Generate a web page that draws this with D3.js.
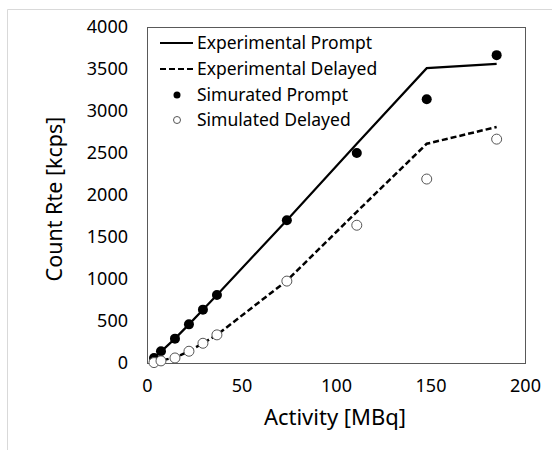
<!DOCTYPE html>
<html>
<head>
<meta charset="utf-8">
<script src="https://cdn.jsdelivr.net/npm/d3@7"></script>
<style>
  body { margin: 0; background: #fff; }
  text { font-family: "Noto Sans", "Open Sans", sans-serif; fill: #000; }
</style>
</head>
<body>
<script>
// activity in MBq (multiples of 3.7)
var activity = [3.7, 7.4, 14.8, 22.2, 29.6, 37, 74, 111, 148, 185]

var expPrompt  = [65, 135, 290, 460, 635, 810, 1700, 2610, 3510, 3560]
var expDelayed = [10, 30, 65, 140, 235, 335, 980, 1800, 2610, 2810]
var simPrompt  = [60, 140, 290, 460, 635, 810, 1700, 2500, 3140, 3665]
var simDelayed = [5, 25, 60, 140, 235, 335, 975, 1640, 2190, 2665]

var xTicks = [0, 50, 100, 150, 200]
var yTicks = [0, 500, 1000, 1500, 2000, 2500, 3000, 3500, 4000]

var width = 552, height = 450
var plotLeft = 147, plotRight = 525, plotTop = 27, plotBottom = 363

var svg = d3.select("body").append("svg")
    .attr("width", width)
    .attr("height", height)

// light outer frame
svg.append("path")
    .attr("d", "M7.5," + height + "V9.5H" + width)
    .attr("fill", "none")
    .attr("stroke", "#d9d9d9")

var x = d3.scaleLinear().domain([0, 200]).range([plotLeft, plotRight])
var y = d3.scaleLinear().domain([0, 4000]).range([plotBottom, plotTop])

// plot box
svg.append("rect")
    .attr("x", plotLeft + 0.5).attr("y", plotTop + 0.5)
    .attr("width", plotRight - plotLeft).attr("height", plotBottom - plotTop)
    .attr("fill", "none")
    .attr("stroke", "#595959")

// axes (labels only, no tick marks)
var xAxis = svg.append("g")
    .attr("transform", "translate(0," + plotBottom + ")")
    .call(d3.axisBottom(x).tickValues(xTicks).tickFormat(d3.format("d")).tickSize(0).tickPadding(16))
xAxis.select(".domain").remove()
xAxis.selectAll("text").style("font-size", "18px").attr("fill", "#000")
    .style("font-family", "'Noto Sans', sans-serif")

var yAxis = svg.append("g")
    .attr("transform", "translate(" + plotLeft + ",0)")
    .call(d3.axisLeft(y).tickValues(yTicks).tickFormat(d3.format("d")).tickSize(0).tickPadding(19))
yAxis.select(".domain").remove()
yAxis.selectAll("text").style("font-size", "18px").attr("fill", "#000")
    .style("font-family", "'Noto Sans', sans-serif")

// axis titles
svg.append("text")
    .attr("x", 335).attr("y", 425)
    .attr("text-anchor", "middle")
    .style("font-size", "22px")
    .text("Activity [MBq]")

svg.append("text")
    .attr("transform", "translate(62,199) rotate(-90)")
    .attr("text-anchor", "middle")
    .style("font-size", "21.5px")
    .text("Count Rte [kcps]")

var pts = function(vals) {
    return activity.map(function(a, i) { return [a, vals[i]] })
}

var line = d3.line()
    .x(function(d) { return x(d[0]) })
    .y(function(d) { return y(d[1]) })

svg.append("path")
    .datum(pts(expPrompt))
    .attr("d", line)
    .attr("fill", "none")
    .attr("stroke", "#000")
    .attr("stroke-width", 2.2)

svg.append("path")
    .datum(pts(expDelayed))
    .attr("d", line)
    .attr("fill", "none")
    .attr("stroke", "#000")
    .attr("stroke-width", 2.5)
    .attr("stroke-dasharray", "6,3")

svg.selectAll(".simP")
    .data(pts(simPrompt))
    .enter().append("circle")
    .attr("class", "simP")
    .attr("cx", function(d) { return x(d[0]) })
    .attr("cy", function(d) { return y(d[1]) })
    .attr("r", 5)
    .attr("fill", "#000")

svg.selectAll(".simD")
    .data(pts(simDelayed))
    .enter().append("circle")
    .attr("class", "simD")
    .attr("cx", function(d) { return x(d[0]) })
    .attr("cy", function(d) { return y(d[1]) })
    .attr("r", 5)
    .attr("fill", "#fff")
    .attr("stroke", "#555")
    .attr("stroke-width", 1)

// legend
var legendNames = ["Experimental Prompt", "Experimental Delayed", "Simurated Prompt", "Simulated Delayed"]
var legend = svg.append("g")
var rowY = [43, 69, 95, 120]

legend.selectAll("text")
    .data(legendNames)
    .enter().append("text")
    .attr("x", 197)
    .attr("y", function(d, i) { return rowY[i] })
    .attr("dy", "0.35em")
    .style("font-size", "17.5px")
    .text(function(d) { return d })

legend.append("line")
    .attr("x1", 160).attr("x2", 193)
    .attr("y1", rowY[0]).attr("y2", rowY[0])
    .attr("stroke", "#000").attr("stroke-width", 2)
legend.append("line")
    .attr("x1", 160).attr("x2", 193)
    .attr("y1", rowY[1]).attr("y2", rowY[1])
    .attr("stroke", "#000").attr("stroke-width", 2)
    .attr("stroke-dasharray", "6,3")
legend.append("circle")
    .attr("cx", 177).attr("cy", rowY[2]).attr("r", 3.5)
    .attr("fill", "#000")
legend.append("circle")
    .attr("cx", 177).attr("cy", rowY[3]).attr("r", 3.5)
    .attr("fill", "#fff").attr("stroke", "#555")
</script>
</body>
</html>
